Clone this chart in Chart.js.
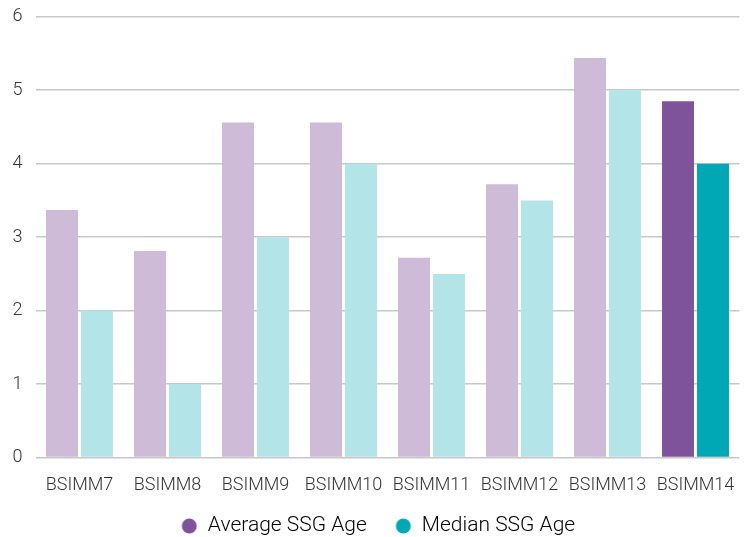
<!DOCTYPE html>
<html>
<head>
<meta charset="utf-8">
<script src="https://cdn.jsdelivr.net/npm/chart.js@4"></script>
<style>
  html, body { margin: 0; padding: 0; background: #fff; }
  #wrap { width: 749px; height: 537px; }
</style>
</head>
<body>
<div id="wrap"><canvas id="chart" width="749" height="537"></canvas></div>
<script>
const categories = ['BSIMM7', 'BSIMM8', 'BSIMM9', 'BSIMM10', 'BSIMM11', 'BSIMM12', 'BSIMM13', 'BSIMM14'];
const averageAge = [3.37, 2.81, 4.56, 4.56, 2.72, 3.72, 5.44, 4.85];
const medianAge = [2, 1, 3, 4, 2.5, 3.5, 5, 4];
const yTicks = [0, 1, 2, 3, 4, 5, 6];

const purpleLight = '#cdbbd7';
const purpleDark = '#7f539b';
const tealLight = '#b3e5e8';
const tealDark = '#00a8b5';

// latest release gets the solid colours
const shade = (light, dark) => categories.map((c, i) => i === categories.length - 1 ? dark : light);

// legend dot with blank room on its left, so the items sit further apart
const legendDot = (color) => {
    const c = document.createElement('canvas');
    c.width = 30;
    c.height = 16;
    const ctx = c.getContext('2d');
    ctx.fillStyle = color;
    ctx.beginPath();
    ctx.arc(22, 8, 7.5, 0, Math.PI * 2);
    ctx.fill();
    return c;
};

Chart.defaults.font.family = 'Roboto, sans-serif';
Chart.defaults.font.weight = 300;
Chart.defaults.color = '#333';

new Chart(document.getElementById('chart'), {
    type: 'bar',
    data: {
        labels: categories,
        datasets: [
            {
                label: 'Average SSG Age',
                data: averageAge,
                backgroundColor: shade(purpleLight, purpleDark),
                borderWidth: 0
            },
            {
                label: 'Median SSG Age',
                data: medianAge,
                backgroundColor: shade(tealLight, tealDark),
                borderWidth: 0
            }
        ]
    },
    options: {
        responsive: false,
        animation: false,
        categoryPercentage: 0.795,
        barPercentage: 0.914,
        layout: { padding: { left: 3, right: 9.5, top: 0, bottom: -9.5 } },
        plugins: {
            tooltip: { enabled: false },
            legend: {
                position: 'bottom',
                labels: {
                    usePointStyle: true,
                    pointStyleWidth: 30,
                    boxHeight: 11,
                    padding: 14.5,
                    font: { size: 21 },
                    generateLabels: (chart) => chart.data.datasets.map((ds, i) => ({
                        text: ds.label,
                        fillStyle: i === 0 ? purpleDark : tealDark,
                        strokeStyle: 'transparent',
                        lineWidth: 0,
                        pointStyle: legendDot(i === 0 ? purpleDark : tealDark),
                        datasetIndex: i
                    }))
                }
            }
        },
        scales: {
            x: {
                grid: { display: false },
                border: { display: false },
                ticks: { font: { size: 18 }, padding: 9, maxRotation: 0 },
                afterFit: (scale) => { scale.height -= 4.1; }
            },
            y: {
                min: 0,
                max: 6,
                afterBuildTicks: (axis) => { axis.ticks = yTicks.map(v => ({ value: v })); },
                grid: { color: '#c8c8c8', lineWidth: 1.5, drawTicks: true, tickLength: 7, tickColor: 'transparent' },
                border: { display: false },
                ticks: { font: { size: 18 }, padding: 6 },
                afterFit: (scale) => { scale.width = 32.5; }
            }
        }
    }
});
</script>
</body>
</html>
